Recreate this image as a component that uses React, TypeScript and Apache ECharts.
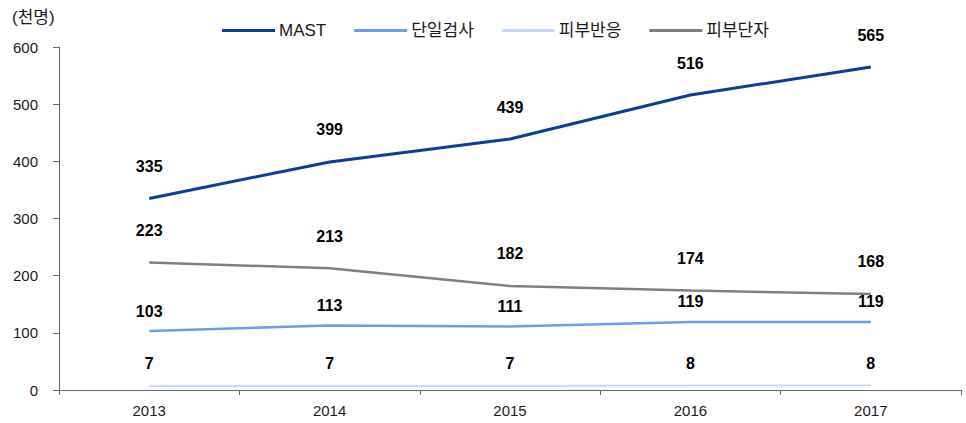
import React, { useEffect, useRef } from "react";
import * as echarts from "echarts";

const categories = ["2013", "2014", "2015", "2016", "2017"];
const mast = [335, 399, 439, 516, 565];
const single = [103, 113, 111, 119, 119];
const skinReact = [7, 7, 7, 8, 8];
const skinPrick = [223, 213, 182, 174, 168];
const yTicks = [0, 100, 200, 300, 400, 500, 600];

const FONT = "'Liberation Sans', 'Noto Sans CJK KR', sans-serif";

export default function App() {
  const ref = useRef<HTMLDivElement>(null);
  useEffect(() => {
    if (!ref.current) return;
    const chart = echarts.init(ref.current, undefined, { renderer: "svg" });
    const mkSeries = (name: string, data: number[], color: string, width: number, dist: number) => ({
      name,
      type: "line",
      data,
      symbol: "circle",
      symbolSize: 0,
      showSymbol: true,
      lineStyle: { color, width },
      itemStyle: { color },
      label: {
        show: true,
        position: "top",
        distance: dist,
        fontFamily: FONT,
        fontSize: 16,
        fontWeight: "bold",
        color: "#000",
      },
      emphasis: { disabled: true },
    });
    chart.setOption({
      animation: false,
      textStyle: { fontFamily: FONT },
      legend: {
        top: 17,
        left: 217,
        itemWidth: 53,
        itemHeight: 3,
        itemGap: 28,
        icon: "rect",
        textStyle: { fontFamily: FONT, fontSize: 17, color: "#1a1a1a", padding: [0, 0, 0, -1] },
        data: ["MAST", "단일검사", "피부반응", "피부단자"],
      },
      graphic: [
        {
          type: "text",
          left: 12,
          top: 9,
          style: { text: "(천명)", fontFamily: FONT, fontSize: 17, fill: "#1a1a1a" },
        },
      ],
      grid: { left: 59, right: 5, top: 47, bottom: 33, containLabel: false },
      xAxis: {
        type: "category",
        data: categories,
        boundaryGap: true,
        axisLine: { lineStyle: { color: "#666", width: 1 } },
        axisTick: { show: true, length: 5, lineStyle: { color: "#666" }, alignWithLabel: false },
        axisLabel: { fontFamily: FONT, fontSize: 15, color: "#1a1a1a", margin: 13 },
      },
      yAxis: {
        type: "value",
        min: yTicks[0],
        max: yTicks[yTicks.length - 1],
        interval: 100,
        splitLine: { show: false },
        axisLine: { show: true, lineStyle: { color: "#666", width: 1 } },
        axisTick: { show: true, length: 6, lineStyle: { color: "#666" } },
        axisLabel: { fontFamily: FONT, fontSize: 15, color: "#1a1a1a", margin: 21 },
      },
      series: [
        mkSeries("MAST", mast, "#0a3c9e", 3, 24),
        mkSeries("단일검사", single, "#6c9bf2", 2.5, 12),
        mkSeries("피부반응", skinReact, "#c9daf8", 2, 14),
        mkSeries("피부단자", skinPrick, "#7f7f7f", 2.5, 24),
      ],
    });
    return () => chart.dispose();
  }, []);
  return <div ref={ref} style={{ width: 966, height: 423, position: "absolute", left: 0, top: 0 }} />;
}
